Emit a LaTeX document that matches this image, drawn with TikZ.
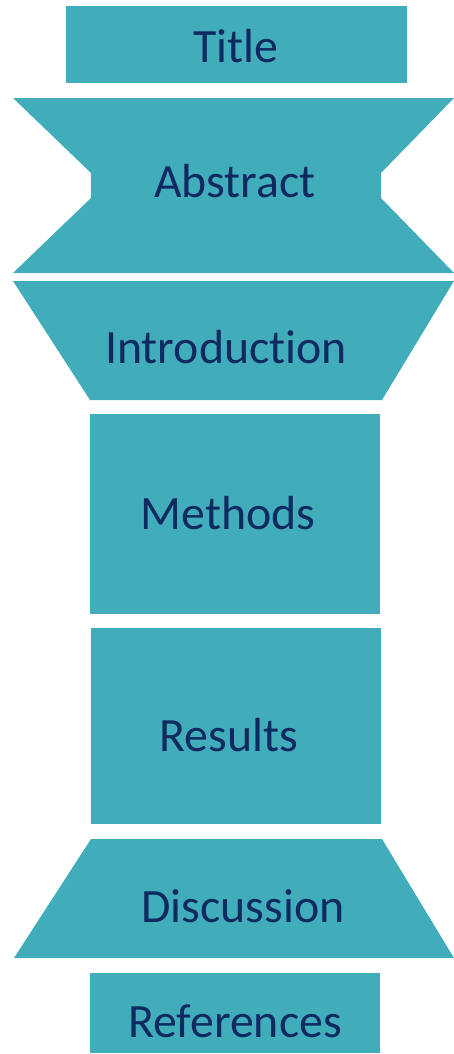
\documentclass[tikz,border=0pt]{standalone}
\usepackage{fontspec}
\setmainfont[Ligatures=NoCommon]{Carlito}
\definecolor{tealfill}{HTML}{42ADBA}
\definecolor{navytext}{HTML}{0E2A61}
\begin{document}
\begin{tikzpicture}[x=1bp,y=-1bp,
  shapefill/.style={fill=tealfill,draw=none},
  lbl/.style={text=navytext,font=\fontsize{48}{56}\selectfont,inner sep=0pt,anchor=center}]
\useasboundingbox (0,0) rectangle (454,1054);
% Title
\fill[shapefill] (66,6) rectangle (407,83);
\node[lbl] (title) at (236,46) {Title};
% Abstract
\fill[shapefill] (13,98) -- (454,98) -- (381,173) -- (381,198) -- (454,273) -- (13,273) -- (91,198) -- (91,173) -- cycle;
\node[lbl] (abstract) at (235,181) {Abstract};
% Introduction
\fill[shapefill] (13,281) -- (454,281) -- (382,400) -- (90,400) -- cycle;
\node[lbl] (intro) at (226,347) {Introduction};
% Methods
\fill[shapefill] (90,414) rectangle (380,614);
\node[lbl] (methods) at (228,513) {Methods};
% Results
\fill[shapefill] (91,628) rectangle (381,824);
\node[lbl] (results) at (229,735) {Results};
% Discussion
\fill[shapefill] (91,839) -- (382,839) -- (454,958) -- (14,958) -- cycle;
\node[lbl] (discussion) at (243,906) {Discussion};
% References
\fill[shapefill] (90,973) rectangle (380,1053);
\node[lbl] (references) at (235,1021) {References};
\end{tikzpicture}
\end{document}
